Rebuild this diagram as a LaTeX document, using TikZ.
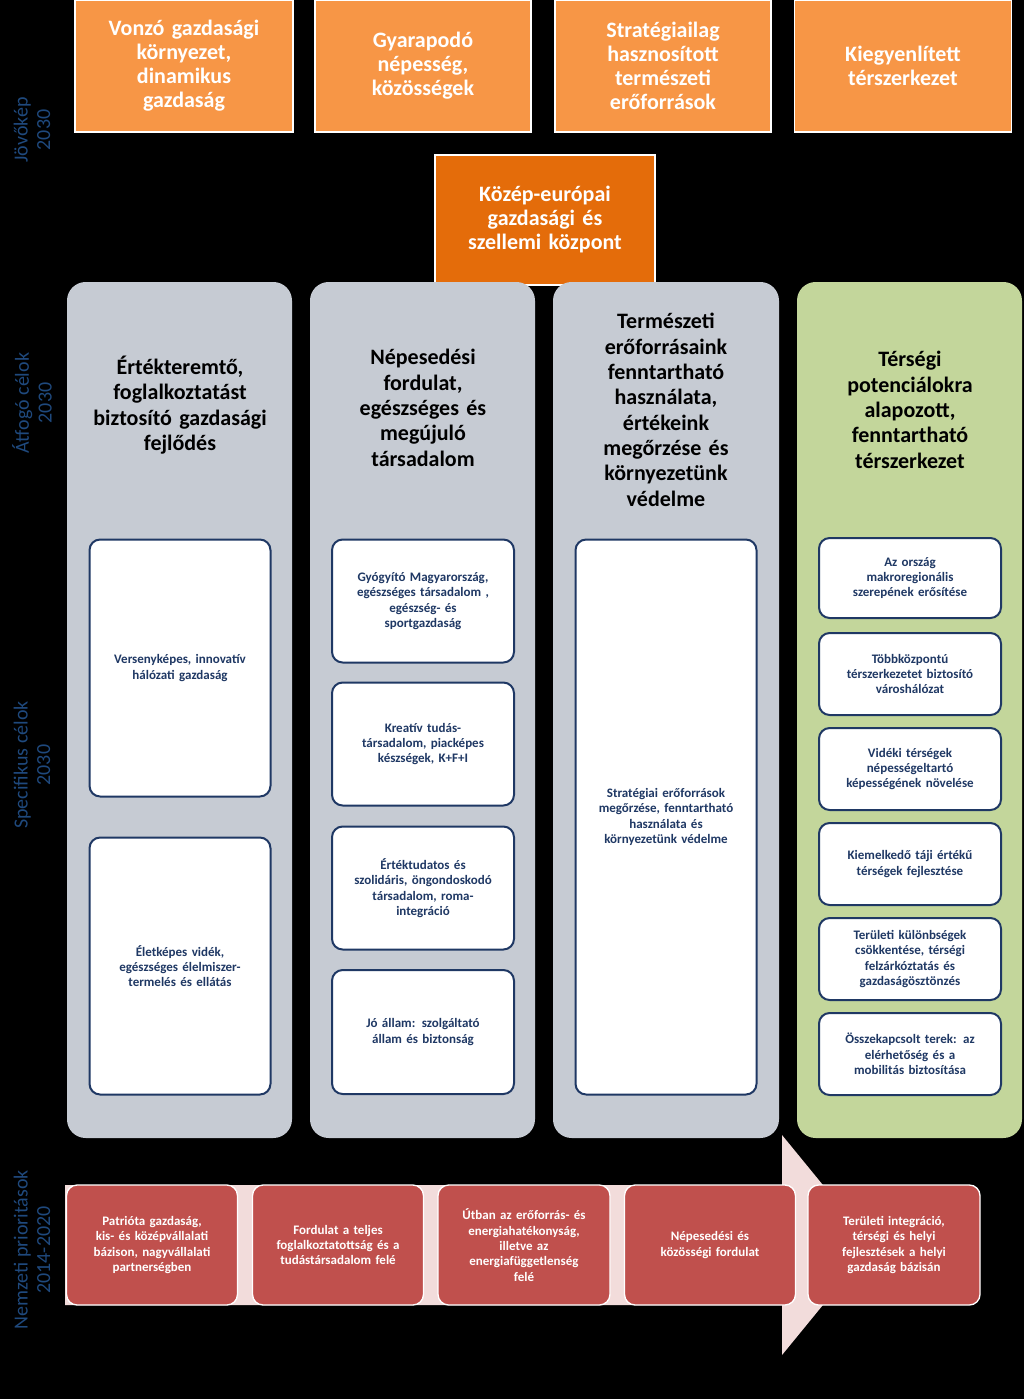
\documentclass[tikz,border=0pt]{standalone}
\usepackage{fontspec}
\setmainfont{Carlito}
\definecolor{ora}{HTML}{F79646}
\definecolor{dora}{HTML}{E46C0A}
\definecolor{colg}{HTML}{C6CBD3}
\definecolor{colgr}{HTML}{C3D69B}
\definecolor{dblue}{HTML}{1F3864}
\definecolor{lblue}{HTML}{1F497D}
\definecolor{rd}{HTML}{C0504D}
\definecolor{pink}{HTML}{F2DCDB}
\begin{document}
\begin{tikzpicture}[x=0.75pt,y=-0.75pt,
 topbox/.style={fill=ora,draw=white,line width=1pt,text=white,font=\fontsize{16.5}{18}\selectfont\bfseries,align=center,text width=150pt},
 colbox/.style={rounded corners=14pt,draw=none},
 title/.style={font=\fontsize{16.5}{19}\selectfont\bfseries,align=center,text width=150pt},
 inbox/.style={fill=white,draw=dblue,line width=1.5pt,rounded corners=8pt,text=dblue,font=\fontsize{9.75}{11.5}\selectfont\bfseries,align=center,text width=120pt},
 redbox/.style={fill=rd,draw=white,line width=1pt,rounded corners=8pt,text=white,font=\fontsize{9.75}{11.5}\selectfont\bfseries,align=center,text width=112pt},
 side/.style={rotate=90,text=lblue,font=\fontsize{15}{17}\selectfont,align=center}]
\fill[black] (0,0) rectangle (1024,1399);
\useasboundingbox (0,0) rectangle (1024,1399);
% top
\node[topbox,minimum width=218*0.75pt,minimum height=132*0.75pt] (t1) at (184,66) {Vonzó gazdasági\\környezet,\\dinamikus\\gazdaság};
\node[topbox,minimum width=216*0.75pt,minimum height=132*0.75pt] (t2) at (423,66) {Gyarapodó\\népesség,\\közösségek};
\node[topbox,minimum width=216*0.75pt,minimum height=132*0.75pt] (t3) at (663,66) {Stratégiailag\\hasznosított\\természeti\\erőforrások};
\node[topbox,minimum width=217*0.75pt,minimum height=132*0.75pt] (t4) at (903,66) {Kiegyenlített\\térszerkezet};
\node[topbox,fill=dora,minimum width=220*0.75pt,minimum height=130*0.75pt] (c) at (545,220) {Közép-európai\\gazdasági és\\szellemi központ};
% columns
\fill[colg,rounded corners=14pt] (67,282) rectangle (292,1138);
\fill[colg,rounded corners=14pt] (310,282) rectangle (535,1138);
\fill[colg,rounded corners=14pt] (553,282) rectangle (779,1138);
\fill[colgr,rounded corners=14pt] (797,282) rectangle (1022,1138);
\node[title] (h1) at (180,405) {Értékteremtő,\\foglalkoztatást\\biztosító gazdasági\\fejlődés};
\node[title] (h2) at (423,408) {Népesedési\\fordulat,\\egészséges és\\megújuló\\társadalom};
\node[title] (h3) at (666,410) {Természeti\\erőforrásaink\\fenntartható\\használata,\\értékeink\\megőrzése és\\környezetünk\\védelme};
\node[title] (h4) at (910,410) {Térségi\\potenciálokra\\alapozott,\\fenntartható\\térszerkezet};
% inner boxes
\newcommand{\ibox}[6]{\node[inbox,minimum width=#4*0.75pt,minimum height=#5*0.75pt] (#1) at (#2,#3) {#6};}
\ibox{a1}{180}{668}{181}{257}{Versenyképes, innovatív\\hálózati gazdaság}
\ibox{a2}{180}{966}{181}{257}{Életképes vidék,\\egészséges élelmiszer-\\termelés és ellátás}
\ibox{b1}{423}{601}{182}{123}{Gyógyító Magyarország,\\egészséges társadalom ,\\egészség- és\\sportgazdaság}
\ibox{b2}{423}{744}{182}{123}{Kreatív tudás-\\társadalom, piacképes\\készségek, K+F+I}
\ibox{b3}{423}{888}{182}{123}{Értéktudatos és\\szolidáris, öngondoskodó\\társadalom, roma-\\integráció}
\ibox{b4}{423}{1032}{182}{124}{Jó állam: szolgáltató\\állam és biztonság}
\ibox{c1}{666}{817}{181}{555}{Stratégiai erőforrások\\megőrzése, fenntartható\\használata és\\környezetünk védelme}
\ibox{d1}{910}{578}{182}{80}{Az ország\\makroregionális\\szerepének erősítése}
\ibox{d2}{910}{674}{182}{82}{Többközpontú\\térszerkezetet biztosító\\városhálózat}
\ibox{d3}{910}{769}{182}{82}{Vidéki térségek\\népességeltartó\\képességének növelése}
\ibox{d4}{910}{864}{182}{82}{Kiemelkedő táji értékű\\térségek  fejlesztése}
\ibox{d5}{910}{959}{182}{82}{Területi különbségek\\csökkentése, térségi\\felzárkóztatás és\\gazdaságösztönzés}
\ibox{d6}{910}{1054}{182}{82}{Összekapcsolt terek: az\\elérhetőség és a\\mobilitás biztosítása}
% bottom arrow
\fill[pink] (65,1185) -- (782,1185) -- (782,1135) -- (872,1245) -- (782,1355) -- (782,1305) -- (65,1305) -- cycle;
\newcommand{\rbox}[4]{\node[redbox,minimum width=#3*0.75pt,minimum height=120*0.75pt] (#1) at (#2,1245) {#4};}
\rbox{r1}{152}{171}{Patrióta gazdaság,\\kis- és középvállalati\\bázison, nagyvállalati\\partnerségben}
\rbox{r2}{338}{171}{Fordulat a teljes\\foglalkoztatottság és a\\tudástársadalom felé}
\rbox{r3}{524}{172}{Útban az erőforrás- és\\energiahatékonyság,\\illetve az\\energiafüggetlenség\\felé}
\rbox{r4}{710}{171}{Népesedési és\\közösségi fordulat}
\rbox{r5}{894}{172}{Területi integráció,\\térségi és helyi\\fejlesztések a helyi\\gazdaság bázisán}
% side labels
\node[side] (s1) at (32,130) {Jövőkép\\2030};
\node[side] (s2) at (32,403) {Átfogó célok\\2030};
\node[side] (s3) at (32,765) {Specifikus célok\\2030};
\node[side] (s4) at (32,1250) {Nemzeti prioritások\\2014-2020};
\end{tikzpicture}
\end{document}
